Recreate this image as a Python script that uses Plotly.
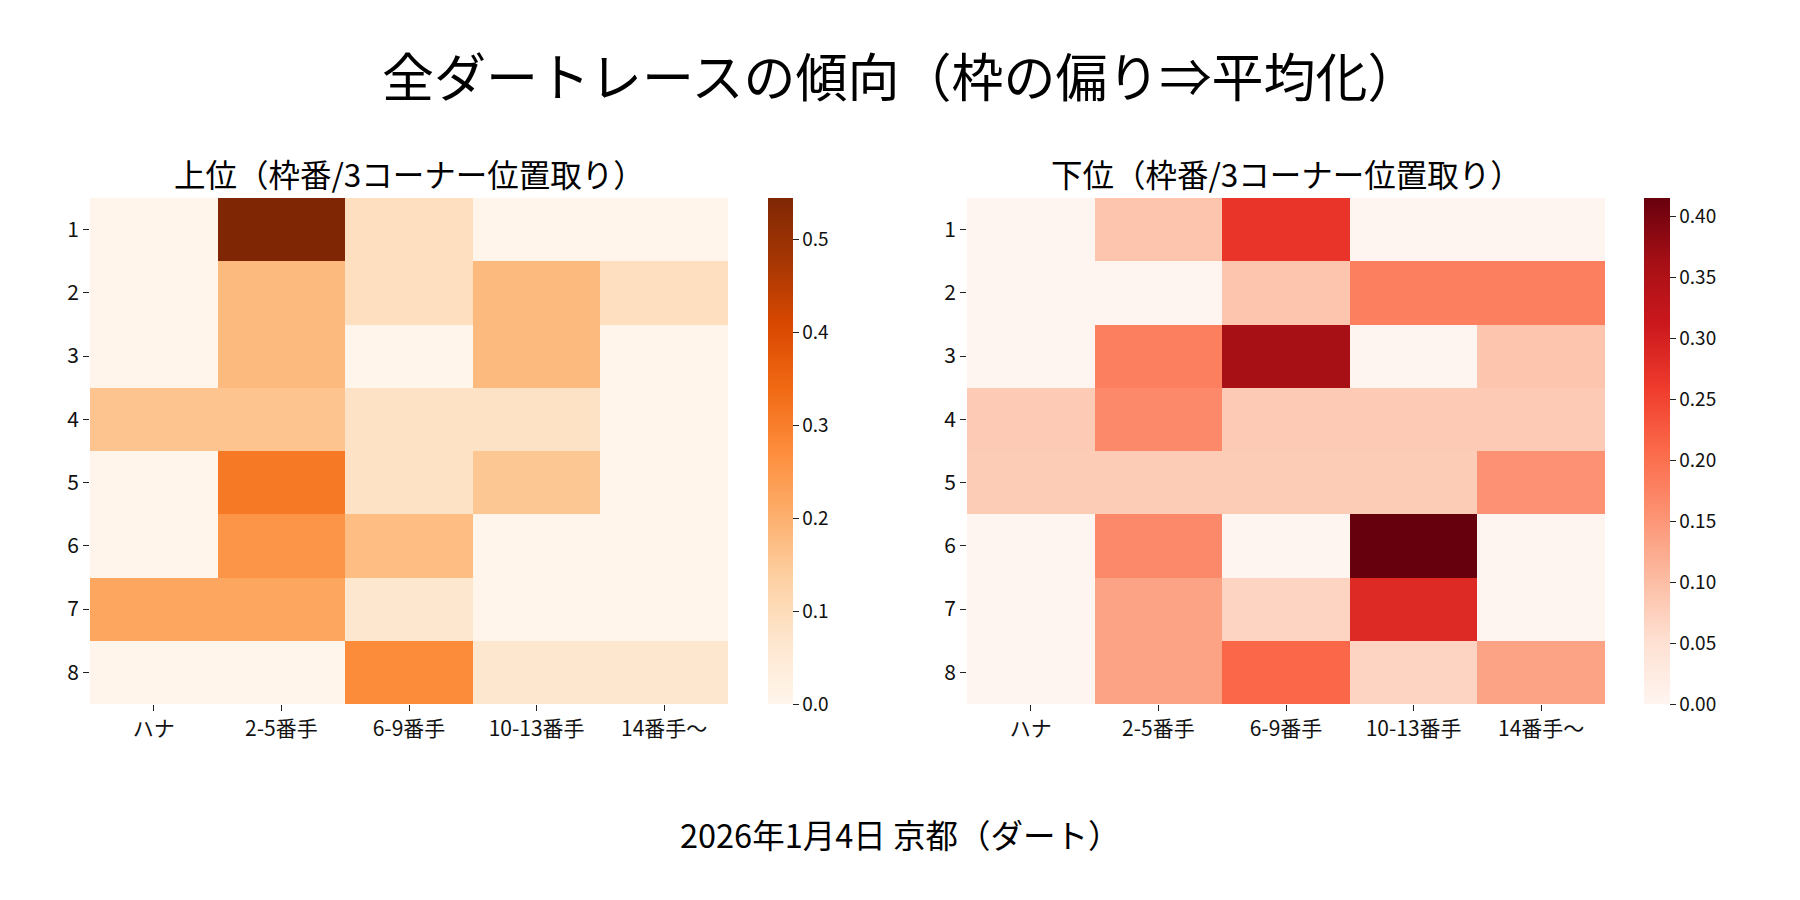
import plotly.graph_objects as go

# カテゴリ
positions = ["ハナ", "2-5番手", "6-9番手", "10-13番手", "14番手〜"]
gates = ["1", "2", "3", "4", "5", "6", "7", "8"]

# 上位（枠番 x 3コーナー位置取り）
top_vals = [
    [0.00, 0.545, 0.09, 0.00, 0.00],
    [0.00, 0.18, 0.09, 0.18, 0.09],
    [0.00, 0.18, 0.00, 0.18, 0.00],
    [0.16, 0.16, 0.08, 0.08, 0.00],
    [0.00, 0.31, 0.08, 0.155, 0.00],
    [0.00, 0.255, 0.175, 0.00, 0.00],
    [0.22, 0.22, 0.065, 0.00, 0.00],
    [0.00, 0.00, 0.275, 0.065, 0.065],
]

# 下位
bottom_vals = [
    [0.00, 0.09, 0.27, 0.00, 0.00],
    [0.00, 0.00, 0.09, 0.18, 0.18],
    [0.00, 0.18, 0.36, 0.00, 0.09],
    [0.083, 0.167, 0.083, 0.083, 0.083],
    [0.08, 0.08, 0.08, 0.08, 0.155],
    [0.00, 0.167, 0.00, 0.415, 0.00],
    [0.00, 0.135, 0.07, 0.285, 0.00],
    [0.00, 0.135, 0.21, 0.07, 0.135],
]

FONT = "Noto Sans CJK JP"
title_text = "全ダートレースの傾向（枠の偏り⇒平均化）"
sub_titles = ["上位（枠番/3コーナー位置取り）", "下位（枠番/3コーナー位置取り）"]
footer = "2026年1月4日 京都（ダート）"

W, H = 1800, 900
OFF = 8  # ページの body 余白ぶんずらす

def px(x):
    return (x - OFF) / W

def py(y):
    return 1 - (y - OFF) / H

left_dom = [px(90), px(728)]
right_dom = [px(967), px(1605)]
y_dom = [py(704), py(198)]

fig = go.Figure()

fig.add_trace(go.Heatmap(
    z=top_vals, x=positions, y=gates,
    colorscale="Oranges", zmin=0, zmax=max(max(r) for r in top_vals),
    xaxis="x", yaxis="y",
    colorbar=dict(
        x=px(768), xanchor="left", y=y_dom[0], yanchor="bottom",
        len=y_dom[1] - y_dom[0], lenmode="fraction", thickness=25, thicknessmode="pixels",
        outlinewidth=0, ticks="outside", ticklen=6, tickwidth=1.2, tickcolor="#222",
        tickvals=[0, 0.1, 0.2, 0.3, 0.4, 0.5],
        ticktext=["0.0", "0.1", "0.2", "0.3", "0.4", "0.5"],
        tickfont=dict(family=FONT, size=19, color="#111"),
        xpad=0, ypad=0,
    ),
))

fig.add_trace(go.Heatmap(
    z=bottom_vals, x=positions, y=gates,
    colorscale="Reds", zmin=0, zmax=max(max(r) for r in bottom_vals),
    xaxis="x2", yaxis="y2",
    colorbar=dict(
        x=px(1644), xanchor="left", y=y_dom[0], yanchor="bottom",
        len=y_dom[1] - y_dom[0], lenmode="fraction", thickness=26, thicknessmode="pixels",
        outlinewidth=0, ticks="outside", ticklen=6, tickwidth=1.2, tickcolor="#222",
        tickvals=[0, 0.05, 0.1, 0.15, 0.2, 0.25, 0.3, 0.35, 0.4],
        ticktext=["0.00", "0.05", "0.10", "0.15", "0.20", "0.25", "0.30", "0.35", "0.40"],
        tickfont=dict(family=FONT, size=19, color="#111"),
        xpad=0, ypad=0,
    ),
))

axis_common = dict(
    showgrid=False, zeroline=False, showline=False, automargin=False,
    ticks="outside", ticklen=6, tickwidth=1.2, tickcolor="#222",
    tickfont=dict(family=FONT, size=21, color="#111"),
)

fig.update_layout(
    width=W, height=H,
    paper_bgcolor="white", plot_bgcolor="white",
    margin=dict(l=0, r=0, t=0, b=0, autoexpand=False),
    font=dict(family=FONT, color="#111"),
    xaxis=dict(domain=left_dom, anchor="y", **axis_common),
    yaxis=dict(domain=y_dom, anchor="x", autorange="reversed", **axis_common),
    xaxis2=dict(domain=right_dom, anchor="y2", **axis_common),
    yaxis2=dict(domain=y_dom, anchor="x2", autorange="reversed", **axis_common),
    annotations=[
        dict(text=title_text, x=px(900), y=py(75), xref="paper", yref="paper",
             xanchor="center", yanchor="middle", showarrow=False,
             font=dict(family=FONT, size=52, color="#000")),
        dict(text=sub_titles[0], x=sum(left_dom) / 2, y=py(173), xref="paper", yref="paper",
             xanchor="center", yanchor="middle", showarrow=False,
             font=dict(family=FONT, size=31.5, color="#000")),
        dict(text=sub_titles[1], x=sum(right_dom) / 2, y=py(173), xref="paper", yref="paper",
             xanchor="center", yanchor="middle", showarrow=False,
             font=dict(family=FONT, size=31.5, color="#000")),
        dict(text=footer, x=px(900), y=py(833), xref="paper", yref="paper",
             xanchor="center", yanchor="middle", showarrow=False,
             font=dict(family=FONT, size=32.5, color="#000")),
    ],
)

fig.write_html("out.html")
